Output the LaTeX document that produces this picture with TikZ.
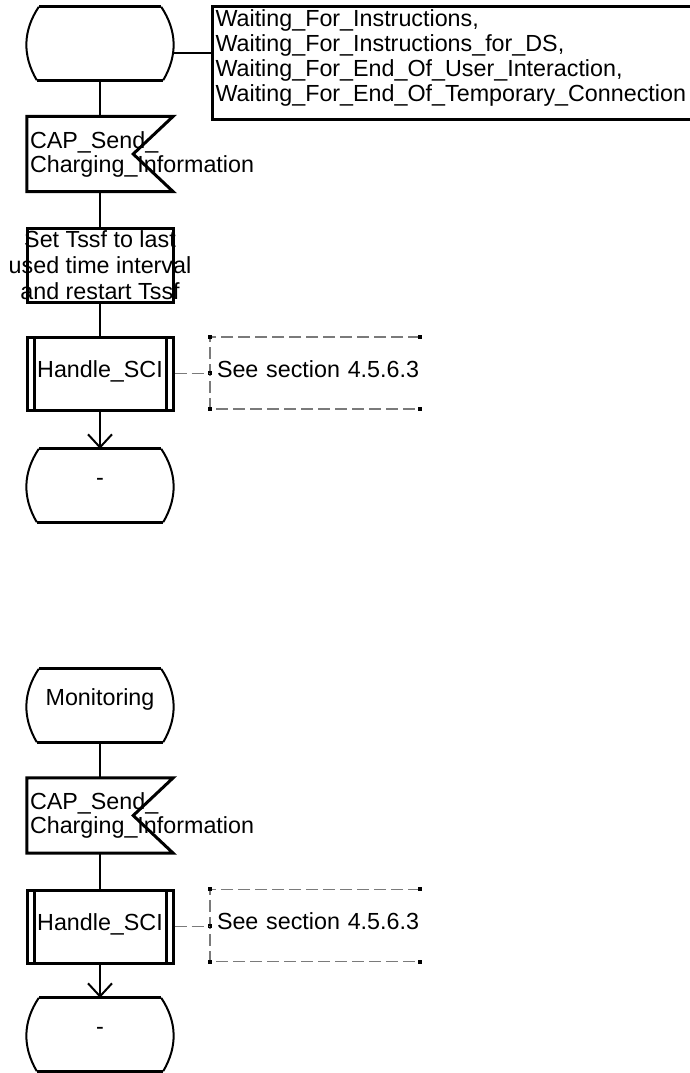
\documentclass[tikz,border=0pt]{standalone}
\usepackage{fontspec}
\setmainfont{Liberation Sans}
\usetikzlibrary{arrows.meta,positioning}
\definecolor{DashGray}{HTML}{7A7A7A}

% text lines that may spill over a symbol's border
\newcommand{\lspill}[1]{\makebox[0pt][l]{#1}}
\newcommand{\cspill}[1]{\makebox[0pt]{#1}}

% SDL outlines drawn round plain nodes
\newcommand{\stateshape}[1]{%
  \draw[border] ([xshift=12pt]#1.north west) -- ([xshift=-12pt]#1.north east);
  \draw[border] ([xshift=10pt]#1.south west) -- ([xshift=-10pt]#1.south east);
  \draw[side] ([xshift=12pt]#1.north west) to[bend right=32] ([xshift=10pt]#1.south west);
  \draw[side] ([xshift=-12pt]#1.north east) to[bend left=32] ([xshift=-10pt]#1.south east);
}
\newcommand{\signalshape}[1]{%
  \draw[border] (#1.north west) -- (#1.north east) -- ([xshift=-40pt]#1.east)
    -- (#1.south east) -- (#1.south west) -- cycle;
}
\newcommand{\cmtbracket}[1]{%
  \draw[cmtline] (#1.north east) -- (#1.north west) -- (#1.south west) -- (#1.south east);
  \foreach \c in {north east,north west,south west,south east,west}
    \fill (#1.\c) ++(-2,-2) rectangle ++(4,4);
}

\tikzset{
  sdl/.style={x=1pt,y=-1pt,font=\fontsize{23.3}{25}\selectfont},
  conn/.style={line width=2pt},
  border/.style={line width=3pt},
  side/.style={line width=2pt},
  state/.style={minimum width=146pt,minimum height=73pt,inner sep=0pt,text height=17pt,text depth=17pt},
  sigin/.style={minimum width=146pt,minimum height=75pt,inner sep=3pt,text width=140pt,align=left,
    font=\fontsize{23.3}{24}\selectfont},
  task/.style={draw,border,minimum width=146pt,minimum height=74pt,inner sep=0pt,align=center,
    font=\fontsize{23.3}{26}\selectfont},
  proc/.style={draw,border,minimum width=146pt,minimum height=73pt,inner sep=0pt,text depth=8pt,
    path picture={
      \draw[border] ([xshift=7pt]path picture bounding box.north west) -- ([xshift=7pt]path picture bounding box.south west);
      \draw[border] ([xshift=-7pt]path picture bounding box.north east) -- ([xshift=-7pt]path picture bounding box.south east);}},
  cmt/.style={minimum width=210pt,minimum height=72pt,inner sep=0pt,text width=196pt,align=left,text depth=8pt},
  cmtline/.style={DashGray,line width=1.5pt,dash pattern=on 12pt off 5pt},
  arr/.style={conn,-{Straight Barb[length=13pt,width=24pt]}}
}

\begin{document}
\begin{tikzpicture}[sdl]
  \useasboundingbox (0,0) rectangle (690,1073);
  % upper diagram
  \node[state] (st1) at (100,43.5) {};
  \node[draw,border,anchor=north west,minimum width=492pt,minimum height=113pt,inner sep=3pt,
    text width=486pt,align=left,text depth=90pt] (waitbox) at (211,5)
    {Waiting\_For\_Instructions,\\Waiting\_For\_Instructions\_for\_DS,\\
     Waiting\_For\_End\_Of\_User\_Interaction,\\Waiting\_For\_End\_Of\_Temporary\_Connection};
  \node[sigin] (cap1) at (100,154) {\lspill{CAP\_Send\_}\\\lspill{Charging\_Information}};
  \node[task] (task1) at (100,265) {\cspill{Set Tssf to last}\\\cspill{used time interval}\\\cspill{and restart Tssf}};
  \node[proc] (proc1) at (100,373.5) {Handle\_SCI};
  \node[cmt] (cmt1) at (315,373) {\lspill{See section 4.5.6.3}};
  \node[state] (st2) at (100,485.5) {-};
  \stateshape{st1}
  \stateshape{st2}
  \signalshape{cap1}
  \cmtbracket{cmt1}
  \coordinate (j1) at ([yshift=-9.5pt]st1.east);
  \draw[conn] (j1) -- (j1 -| waitbox.west);
  \draw[conn] (st1) -- (cap1);
  \draw[conn] (cap1) -- (task1);
  \draw[conn] (task1) -- (proc1);
  \draw[arr] (proc1) -- (st2);
  \draw[cmtline] (proc1.east) -- (proc1.east -| cmt1.west);
  % lower diagram
  \node[state] (st3) at (100,705.5) {Monitoring};
  \node[sigin] (cap2) at (100,815.5) {\lspill{CAP\_Send\_}\\\lspill{Charging\_Information}};
  \node[proc] (proc2) at (100,926.5) {Handle\_SCI};
  \node[cmt] (cmt2) at (315,925.5) {\lspill{See section 4.5.6.3}};
  \node[state] (st4) at (100,1034.5) {-};
  \stateshape{st3}
  \stateshape{st4}
  \signalshape{cap2}
  \cmtbracket{cmt2}
  \draw[conn] (st3) -- (cap2);
  \draw[conn] (cap2) -- (proc2);
  \draw[arr] (proc2) -- (st4);
  \draw[cmtline] (proc2.east) -- (proc2.east -| cmt2.west);
\end{tikzpicture}
\end{document}
